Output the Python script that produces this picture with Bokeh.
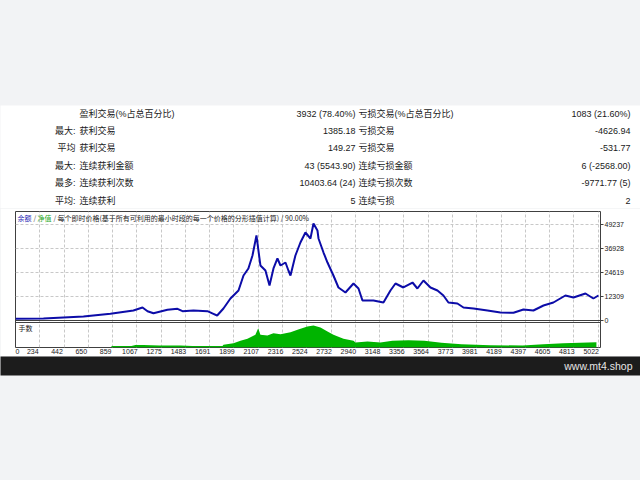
from bokeh.plotting import figure
from bokeh.layouts import column
from bokeh.models import (Range1d, LinearAxis, FixedTicker, Span, Label,
                          ColumnDataSource, GlobalInlineStyleSheet)
from bokeh.core.properties import value
from bokeh.embed import file_html
from bokeh.resources import INLINE

# ---------------- data ----------------
ROW_PREFIX = ["", "最大:", "平均", "最大:", "最多:", "平均:"]
WIN_NAMES = ["盈利交易(%占总百分比)", "获利交易", "获利交易", "连续获利金额", "连续获利次数", "连续获利"]
WIN_VALUES = ["3932 (78.40%)", "1385.18", "149.27", "43 (5543.90)", "10403.64 (24)", "5"]
LOSS_NAMES = ["亏损交易(%占总百分比)", "亏损交易", "亏损交易", "连续亏损金额", "连续亏损次数", "连续亏损"]
LOSS_VALUES = ["1083 (21.60%)", "-4626.94", "-531.77", "6 (-2568.00)", "-9771.77 (5)", "2"]

TRADES = [26, 266, 609, 840, 1037, 1115, 1158, 1209, 1329, 1415, 1458, 1552, 1672, 1723,
          1755, 1809, 1869, 1938, 1981, 2023, 2058, 2092, 2126, 2169, 2204, 2238, 2272,
          2298, 2341, 2366, 2384, 2426, 2469, 2512, 2555, 2581, 2615, 2624, 2667, 2701,
          2752, 2795, 2855, 2924, 2967, 3001, 3095, 3181, 3241, 3284, 3352, 3430, 3472,
          3524, 3584, 3644, 3695, 3738, 3815, 3867, 3953, 4073, 4184, 4296, 4381, 4467,
          4553, 4638, 4741, 4810, 4913, 4981, 5024]
EQUITY = [870, 1030, 2050, 3440, 5130, 6670, 4770, 3740, 5490, 6000, 4770, 5130, 4770, 3440,
          2570, 6160, 11290, 15390, 23090, 26680, 33350, 43610, 28220, 25650, 17960, 26680,
          31810, 28220, 29750, 25650, 23090, 33350, 40010, 45140, 42070, 49760, 46170, 42070,
          34880, 29750, 23090, 16930, 14360, 18980, 16420, 10260, 10260, 9230, 15390, 18980,
          16930, 19490, 16420, 20520, 16930, 15390, 12830, 9230, 8720, 6670, 6160, 5130, 4100,
          3950, 5640, 5130, 7700, 9230, 12830, 11800, 13850, 11290, 12830]

LOT_TRADES = [849, 1020, 1055, 1123, 1260, 1440, 1543, 1646, 1801, 1809, 1895, 1955, 2015,
              2083, 2107, 2126, 2186, 2238, 2298, 2384, 2444, 2529, 2581, 2641, 2701, 2752,
              2838, 2924, 2941, 3044, 3155, 3258, 3395, 3532, 3678, 3850, 4098, 4373, 4553,
              4724, 5007]
LOTS = [0.15, 0.15, 0.25, 0.25, 0.2, 0.2, 0.15, 0.15, 0.15, 0.27, 0.43, 0.67, 0.87,
        1.27, 1.93, 1.27, 1.2, 1.43, 1.33, 1.53, 1.77, 2.1, 2.2, 2.0, 1.6, 1.27,
        0.87, 0.67, 0.5, 0.6, 0.5, 0.67, 0.73, 0.67, 0.47, 0.33, 0.23, 0.2, 0.33,
        0.43, 0.53]

X_TICKS = [234, 442, 650, 859, 1067, 1275, 1483, 1691, 1899, 2107, 2316, 2524, 2732,
           2940, 3148, 3356, 3564, 3773, 3981, 4189, 4397, 4605, 4813, 5022]
X_FIRST = 103          # position of the leading "0" label (left edge of the axis)
X_FIRST_LABEL = "0"
Y_TICKS = [0, 12309, 24619, 36928, 49237]

# ---------------- styles ----------------
GRAY = "#f2f3f5"
TXT = "#1a1a1a"
FONT_S = "Liberation Sans, Noto Sans CJK SC"
CJK_S = "Noto Sans CJK SC, Liberation Sans"
FONT = value(FONT_S)
X0, X1 = 26, 5042
LABEL_SHIFT = 60       # tick labels sit just left of their grid line (MT4 style)


def bare(fig):
    fig.grid.visible = False
    fig.outline_line_color = None
    return fig


# ---------------- stats table ----------------
stats = bare(figure(width=640, height=208, x_range=Range1d(0, 640),
                    y_range=Range1d(5.458, -0.478),
                    output_backend="svg", toolbar_location=None, frame_align=False,
                    x_axis_location=None, y_axis_location=None,
                    min_border_top=105, min_border_left=0, min_border_right=0,
                    min_border_bottom=0))
stats.background_fill_color = "white"
stats.border_fill_color = GRAY

rows = list(range(len(WIN_NAMES)))
src = ColumnDataSource(dict(r=rows, pre=ROW_PREFIX, wn=WIN_NAMES, wv=WIN_VALUES,
                            ln=LOSS_NAMES, lv=LOSS_VALUES))
common = dict(y="r", source=src, text_font=FONT, text_font_size="9px",
              text_color=TXT, text_baseline="middle")
stats.text(x=75, text="pre", text_align="right", **common)
stats.text(x=79, text="wn", text_align="left", **common)
stats.text(x=355, text="wv", text_align="right", **common)
stats.text(x=358, text="ln", text_align="left", **common)
stats.text(x=630, text="lv", text_align="right", **common)

# ---------------- chart (balance + lots) ----------------
chart = figure(width=640, height=148, x_range=Range1d(X0, X1), y_range=Range1d(-13851, 55917),
               output_backend="svg", toolbar_location=None, frame_align=False,
               x_axis_location=None, y_axis_location=None,
               min_border_left=15, min_border_right=40, min_border_top=3, min_border_bottom=9)
chart.extra_y_ranges = {"lots": Range1d(0, 13.6)}
chart.extra_x_ranges = {"lab": Range1d(X0 + LABEL_SHIFT, X1 + LABEL_SHIFT)}
chart.background_fill_color = "white"
chart.border_fill_color = "white"
chart.outline_line_color = "#404040"

chart.xgrid.ticker = FixedTicker(ticks=X_TICKS)
chart.ygrid.ticker = FixedTicker(ticks=Y_TICKS[1:])
chart.grid.grid_line_color = "#c8c8c8"
chart.grid.grid_line_dash = "3 2"

chart.varea(x=LOT_TRADES, y1=0, y2=LOTS, y_range_name="lots", fill_color="#00b400")
chart.line(TRADES, EQUITY, line_color="#0c0ca8", line_width=2)

chart.add_layout(Span(location=0, dimension="width", line_color="#404040", line_width=1))
chart.add_layout(Span(location=2.5, dimension="width", y_range_name="lots",
                      line_color="#404040", line_width=1))

ax = LinearAxis(ticker=FixedTicker(ticks=Y_TICKS),
                major_label_overrides={t: str(t) for t in Y_TICKS})
ax.axis_line_color = None
ax.major_tick_in = 0
ax.major_tick_out = 3
ax.major_tick_line_color = "#404040"
ax.minor_tick_line_color = None
ax.major_label_text_font = FONT_S
ax.major_label_text_font_size = "7px"
ax.major_label_text_color = TXT
ax.major_label_standoff = 1
chart.add_layout(ax, "right")

xticks_all = [X_FIRST] + X_TICKS
xlabels = {X_FIRST: X_FIRST_LABEL}
xlabels.update({t: str(t) for t in X_TICKS})
bx = LinearAxis(x_range_name="lab", ticker=FixedTicker(ticks=xticks_all),
                major_label_overrides=xlabels)
bx.axis_line_color = None
bx.major_tick_line_color = None
bx.minor_tick_line_color = None
bx.major_tick_in = 0
bx.major_tick_out = 0
bx.major_label_standoff = 1
bx.major_label_text_font = FONT_S
bx.major_label_text_font_size = "7px"
bx.major_label_text_color = TXT
chart.add_layout(bx, "below")

cap = [("余额", 2, "#1f1fb4"), ("/", 18, "#555555"), ("净值", 22, "#1fa81f"),
       ("/", 38, "#555555"),
       ("每个即时价格(基于所有可利用的最小时段的每一个价格的分形插值计算) / 90.00%", 42, TXT)]
for t, xo, c in cap:
    chart.add_layout(Label(x=xo, y=130, x_units="screen", y_units="screen", text=t,
                           text_baseline="middle", text_font=CJK_S, text_font_size="7px",
                           text_color=c))
chart.add_layout(Label(x=3, y=20, x_units="screen", y_units="screen", text="手数",
                       text_baseline="middle", text_font=CJK_S, text_font_size="7px",
                       text_color=TXT))

# ---------------- footer ----------------
foot = bare(figure(width=640, height=124, x_range=Range1d(0, 640), y_range=Range1d(0, 1),
                   output_backend="svg", toolbar_location=None, frame_align=False,
                   x_axis_location=None, y_axis_location=None,
                   min_border_top=0, min_border_left=0, min_border_right=0,
                   min_border_bottom=105))
foot.background_fill_color = "#1c1c1c"
foot.border_fill_color = GRAY
foot.add_layout(Label(x=632, y=0.5, text="www.mt4.shop", text_align="right",
                      text_baseline="middle", text_font=FONT_S, text_font_size="10.5px",
                      text_color="#e6e6e6"))

p = column(stats, chart, foot, spacing=0,
           stylesheets=[GlobalInlineStyleSheet(
               css="html,body{margin:0;padding:0;background:#f2f3f5;overflow:hidden;}")])

open("out.html", "w").write(file_html(p, INLINE))
